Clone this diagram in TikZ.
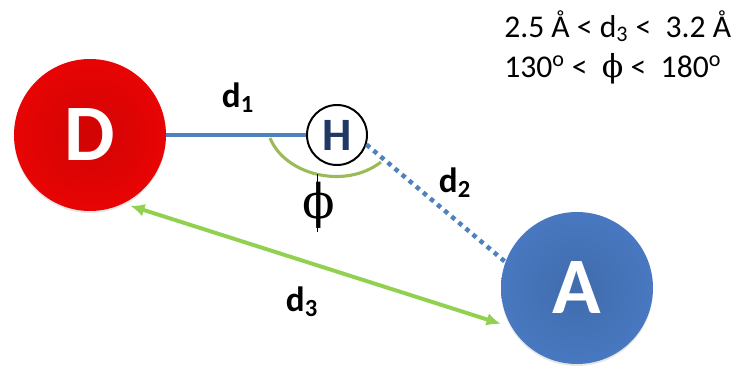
\documentclass[tikz,border=0pt]{standalone}
\usepackage{fontspec}
\setmainfont{Carlito}
\newfontfamily\greekserif{DejaVu Serif}
\usetikzlibrary{arrows.meta,positioning,calc,shadows}

\definecolor{bondblue}{RGB}{79,129,189}
\definecolor{arcgreen}{RGB}{155,187,89}
\definecolor{distgreen}{RGB}{146,208,80}
\definecolor{donorred}{RGB}{232,4,4}
\definecolor{hblue}{RGB}{31,56,100}
\definecolor{accblue}{RGB}{72,120,192}

\begin{document}
\begin{tikzpicture}[
  atom/.style={circle, minimum size=3.8cm, inner sep=0pt, text=white,
               font=\fontsize{57}{57}\selectfont\bfseries,
               drop shadow={opacity=0.2, shadow xshift=0pt, shadow yshift=-0.05cm}},
  hatom/.style={circle, draw=black, line width=1.4pt, fill=white,
                minimum size=1.5cm, inner sep=0pt,
                text=hblue, font=\fontsize{33}{33}\selectfont\bfseries},
  bond/.style={draw=bondblue, line width=2.4pt},
  hbond/.style={draw=bondblue, line width=3.2pt, dash pattern=on 3.2pt off 3.4pt},
  dist/.style={{Latex[length=3.6mm,width=3.2mm]}-{Latex[length=3.6mm,width=3.2mm]},
               draw=distgreen, line width=2.8pt, shorten <=5pt, shorten >=8pt},
  anglearc/.style={draw=arcgreen, line width=2.2pt},
  tick/.style={draw=black, line width=1.2pt},
  dlabel/.style={font=\fontsize{25}{25}\selectfont\bfseries},
  limits/.style={font=\fontsize{22.5}{28.5}\selectfont, align=left,
                 anchor=north west, inner sep=0pt}
]
\useasboundingbox (0,0) rectangle (18.375,9.15);

% Atoms
\node[atom, shading=radial, inner color=donorred!90!black, outer color=donorred] (donor) at (2.25,5.775) {D};
\node[hatom] (hyd) at (8.425,5.775) {H};
\node[atom, shading=radial, inner color=accblue!90!black, outer color=accblue] (acc) at (14.425,1.95) {A};

% Bonds
\draw[bond] (donor) -- (hyd);
\draw[hbond] (hyd.-18) -- (acc.160);
\draw[dist] (donor.-64) -- (acc.211);

% Angle
\draw[anglearc] (6.75,5.7) .. controls (7.125,4.775) and (8.625,4.4) .. (9.525,5.1)
  coordinate[pos=0.5] (arcbot);
\draw[tick] (arcbot) -- ++(0,-1.45) coordinate (tickend);
\node[font=\greekserif\fontsize{34}{34}\selectfont] (phi) at (7.975,4.025) {ϕ};

% Labels
\node[dlabel] (d1) at (5.95,6.7) {d\textsubscript{1}};
\node[dlabel] (d2) at (11.375,4.575) {d\textsubscript{2}};
\node[dlabel] (d3) at (7.55,1.6) {d\textsubscript{3}};

% Criteria
\node[limits] (crit) at (12.6,8.9)
{2.5 Å < d\textsubscript{3} <\ \ 3.2 Å\\
130\textsuperscript{o} <\ \ {\greekserif ϕ} <\ \ 180\textsuperscript{o}};

\end{tikzpicture}
\end{document}
